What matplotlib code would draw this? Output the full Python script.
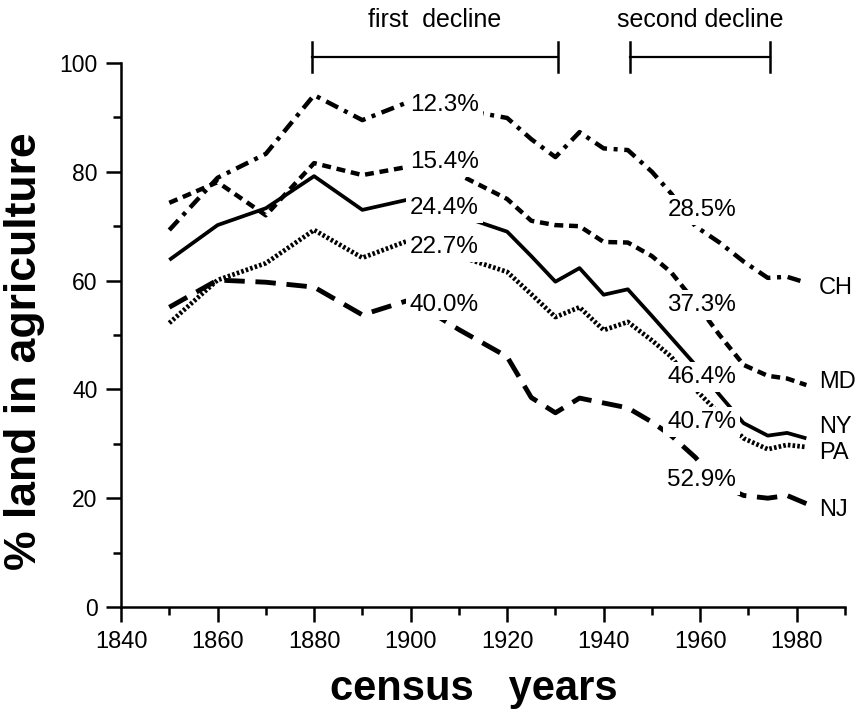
import matplotlib
matplotlib.use('Agg')
import matplotlib.pyplot as plt

plt.rcParams['font.family'] = ['Liberation Sans', 'DejaVu Sans']

years = [1850, 1860, 1870, 1880, 1890, 1900, 1910, 1920, 1925, 1930, 1935,
         1940, 1945, 1950, 1954, 1959, 1964, 1969, 1974, 1978, 1982]

ch = [69.3, 78.9, 83.3, 94.1, 89.5, 93.0, 91.5, 89.9, 86.0, 82.7, 87.3,
      84.3, 84.0, 80.0, 76.0, 70.0, 67.0, 63.5, 60.5, 60.7, 59.6]
md = [74.3, 78.1, 72.0, 81.6, 79.4, 81.0, 79.5, 75.0, 71.0, 70.2, 70.0,
      67.1, 67.0, 64.5, 61.5, 56.0, 50.0, 44.5, 42.5, 42.0, 40.8]
ny = [63.8, 70.2, 73.3, 79.2, 73.0, 75.0, 72.0, 69.0, 64.5, 59.8, 62.3,
      57.4, 58.4, 53.5, 49.5, 44.5, 39.0, 33.8, 31.5, 32.0, 31.0]
pa = [52.2, 60.1, 63.2, 69.3, 64.2, 67.5, 64.5, 61.6, 57.5, 53.3, 55.1,
      50.9, 52.4, 49.0, 46.0, 40.0, 35.5, 31.0, 29.0, 29.8, 29.4]
nj = [55.1, 60.1, 59.7, 58.8, 53.7, 56.5, 51.0, 46.0, 38.5, 35.7, 38.4,
      37.5, 36.6, 34.0, 31.5, 27.5, 22.5, 20.5, 20.0, 20.5, 19.0]

states = ['CH', 'MD', 'NY', 'PA', 'NJ']
state_label_y = [58.6, 41.4, 33.0, 28.3, 17.8]
first_decline = ['12.3%', '15.4%', '24.4%', '22.7%', '40.0%']
first_label_y = [92.3, 81.8, 73.3, 66.2, 55.5]
second_decline = ['28.5%', '37.3%', '46.4%', '40.7%', '52.9%']
second_label_y = [73.0, 55.5, 42.3, 34.0, 23.3]

periods = [(1879.5, 1930.5, 'first  decline'), (1945.4, 1974.5, 'second decline')]

fig = plt.figure(figsize=(8.67, 7.12), dpi=100)
ax = fig.add_axes([0.1396, 0.1475, 0.835, 0.764])

series = [ch, md, ny, pa, nj]
styles = [(0, (3.0, 1.5, 0.9, 1.5)), (0, (2.0, 1.3)), '-', (0, (0.55, 0.45)), (0, (4.2, 2.2))]
widths = [3.2, 3.2, 2.7, 3.4, 3.5]
for vals, ls, lw in zip(series, styles, widths):
    ax.plot(years, vals, color='black', linestyle=ls, linewidth=lw, solid_capstyle='butt')

box = dict(facecolor='white', edgecolor='none', pad=3)
for txt, y in zip(first_decline, first_label_y):
    ax.text(1907, y, txt, ha='center', va='center', fontsize=17.5, bbox=box, zorder=5)
for txt, y in zip(second_decline, second_label_y):
    ax.text(1960.3, y, txt, ha='center', va='center', fontsize=17.5, bbox=box, zorder=5)
for txt, y in zip(states, state_label_y):
    ax.text(1984.6, y, txt, ha='left', va='center', fontsize=17, clip_on=False)

for x0, x1, label in periods:
    ax.plot([x0, x1], [101.1, 101.1], color='black', lw=1.6, clip_on=False)
    ax.plot([x0, x0], [98.3, 103.9], color='black', lw=1.8, clip_on=False)
    ax.plot([x1, x1], [98.3, 103.9], color='black', lw=1.8, clip_on=False)
    ax.text((x0 + x1) / 2, 107.9, label, ha='center', va='center', fontsize=18, clip_on=False)

ax.set_xlim(1840, 1990)
ax.set_ylim(0, 100)
ax.set_xticks(range(1840, 1981, 20))
ax.set_xticks(range(1850, 1991, 10), minor=True)
ax.set_yticks(range(0, 101, 20))
ax.set_yticks(range(10, 100, 20), minor=True)
ax.spines['top'].set_visible(False)
ax.spines['right'].set_visible(False)
ax.spines['left'].set_linewidth(1.8)
ax.spines['bottom'].set_linewidth(1.8)
ax.tick_params(which='major', length=11, width=1.8, labelsize=16.5, pad=6)
ax.tick_params(which='minor', length=6, width=1.8)
ax.tick_params(axis='x', labelsize=17)

fig.text(0.547, 0.017, 'census   years', fontsize=30, fontweight='bold',
         ha='center', va='baseline')
fig.text(0.028, 0.507, '% land in agriculture', fontsize=32, fontweight='bold',
         ha='center', va='center', rotation=90)

fig.savefig('out.png', dpi=100)
